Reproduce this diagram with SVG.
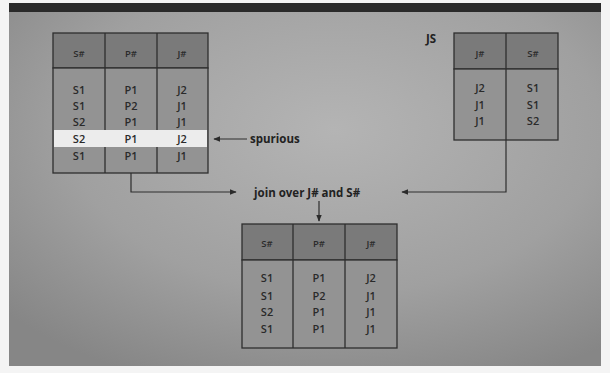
<svg xmlns="http://www.w3.org/2000/svg" width="610" height="373" viewBox="0 0 610 373">
  <defs>
    <radialGradient id="bg" cx="0.55" cy="0.35" r="0.75">
      <stop offset="0" stop-color="#b4b4b4"/>
      <stop offset="0.6" stop-color="#a0a0a0"/>
      <stop offset="1" stop-color="#868686"/>
    </radialGradient>
    <marker id="arr" viewBox="0 0 10 10" refX="9" refY="5" markerWidth="7" markerHeight="7" orient="auto" markerUnits="userSpaceOnUse">
      <path d="M0,1 L10,5 L0,9 Z" fill="#2b2b2b"/>
    </marker>
    <style>
      .hd { fill: #7a7a7a; stroke: #2e2e2e; stroke-width: 1.3; }
      .bd { fill: #939393; stroke: #2e2e2e; stroke-width: 1.3; }
      .ln { stroke: #2e2e2e; stroke-width: 1.3; fill: none; }
      .t { font-family: "Open Sans", "Noto Sans", sans-serif; font-size: 11px; font-weight: 600; fill: #2a2a2a; text-anchor: middle; }
      .h { font-family: "Open Sans", "Noto Sans", sans-serif; font-size: 9.5px; font-weight: 600; fill: #2a2a2a; text-anchor: middle; }
      .lb { font-family: "Open Sans", "Noto Sans", sans-serif; font-size: 11.5px; font-weight: bold; fill: #222; }
      .con { stroke: #2e2e2e; stroke-width: 1.2; fill: none; }
    </style>
  </defs>

  <rect x="0" y="0" width="610" height="373" fill="#f4f4f4"/>
  <rect x="9" y="3" width="592" height="363" fill="url(#bg)"/>
  <rect x="9" y="3" width="592" height="9" fill="#2a2a2a"/>

  <!-- SPJ relation (left) -->
  <g id="spj">
    <rect class="hd" x="53" y="33" width="155" height="35"/>
    <rect class="bd" x="53" y="68" width="155" height="105"/>
    <rect x="54" y="130" width="153" height="17" fill="#ececec"/>
    <line class="ln" x1="105" y1="33" x2="105" y2="130"/>
    <line class="ln" x1="105" y1="147" x2="105" y2="173"/>
    <line class="ln" x1="157" y1="33" x2="157" y2="130"/>
    <line class="ln" x1="157" y1="147" x2="157" y2="173"/>
    <text class="h" x="79" y="57">S#</text>
    <text class="h" x="131" y="57">P#</text>
    <text class="h" x="182" y="57">J#</text>
    <g class="t">
      <text x="79" y="94">S1</text><text x="131" y="94">P1</text><text x="182" y="94">J2</text>
      <text x="79" y="110">S1</text><text x="131" y="110">P2</text><text x="182" y="110">J1</text>
      <text x="79" y="126">S2</text><text x="131" y="126">P1</text><text x="182" y="126">J1</text>
      <text x="79" y="143">S2</text><text x="131" y="143">P1</text><text x="182" y="143">J2</text>
      <text x="79" y="160">S1</text><text x="131" y="160">P1</text><text x="182" y="160">J1</text>
    </g>
  </g>

  <!-- JS relation (right) -->
  <g id="js">
    <text class="lb" x="426" y="43">JS</text>
    <rect class="hd" x="454" y="33" width="104" height="36"/>
    <rect class="bd" x="454" y="69" width="104" height="71"/>
    <line class="ln" x1="506" y1="33" x2="506" y2="140"/>
    <text class="h" x="480" y="57">J#</text>
    <text class="h" x="533" y="57">S#</text>
    <g class="t">
      <text x="480" y="92">J2</text><text x="533" y="92">S1</text>
      <text x="480" y="109">J1</text><text x="533" y="109">S1</text>
      <text x="480" y="125">J1</text><text x="533" y="125">S2</text>
    </g>
  </g>

  <!-- Join result (bottom) -->
  <g id="result">
    <rect class="hd" x="242" y="224" width="155" height="36"/>
    <rect class="bd" x="242" y="260" width="155" height="88"/>
    <line class="ln" x1="293" y1="224" x2="293" y2="348"/>
    <line class="ln" x1="345" y1="224" x2="345" y2="348"/>
    <text class="h" x="267" y="247">S#</text>
    <text class="h" x="319" y="247">P#</text>
    <text class="h" x="371" y="247">J#</text>
    <g class="t">
      <text x="267" y="282">S1</text><text x="319" y="282">P1</text><text x="371" y="282">J2</text>
      <text x="267" y="300">S1</text><text x="319" y="300">P2</text><text x="371" y="300">J1</text>
      <text x="267" y="316">S2</text><text x="319" y="316">P1</text><text x="371" y="316">J1</text>
      <text x="267" y="333">S1</text><text x="319" y="333">P1</text><text x="371" y="333">J1</text>
    </g>
  </g>

  <g id="labels">
    <text class="lb" x="250" y="143">spurious</text>
    <text class="lb" x="254" y="197">join over J# and S#</text>
  </g>

  <g id="connectors">
    <line class="con" x1="247" y1="139" x2="214" y2="139" marker-end="url(#arr)"/>
    <polyline class="con" points="131,173 131,192 236,192" marker-end="url(#arr)"/>
    <polyline class="con" points="506,140 506,192 402,192" marker-end="url(#arr)"/>
    <line class="con" x1="319" y1="201" x2="319" y2="221" marker-end="url(#arr)"/>
  </g>
</svg>
